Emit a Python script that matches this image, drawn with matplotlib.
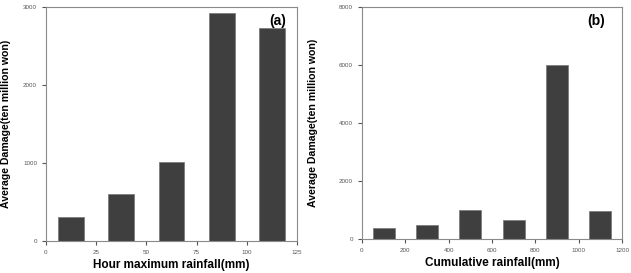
import matplotlib.pyplot as plt

# (a) hour maximum rainfall
hour_rain = [12.5, 37.5, 62.5, 87.5, 112.5]
hour_damage = [307, 598, 1008, 2919, 2731]

# (b) cumulative rainfall
cum_rain = [100, 300, 500, 700, 900, 1100]
cum_damage = [367, 482, 999, 654, 6015, 976]

bar_color = "#3f3f3f"
frame_color = "#8a8a8a"

plt.rcParams["font.family"] = ["Liberation Sans", "DejaVu Sans"]

fig = plt.figure(figsize=(6.31, 2.73), dpi=100)
W, H = 631, 273
ax1 = fig.add_axes([46 / W, 1 - 241 / H, (297 - 46) / W, (241 - 7) / H])
ax2 = fig.add_axes([362 / W, 1 - 239 / H, (622 - 362) / W, (239 - 7) / H])


def style(ax, xlabel, tag, ylab_x, tag_x):
    for s in ax.spines.values():
        s.set_color(frame_color)
        s.set_linewidth(0.8)
    ax.tick_params(axis="both", colors="#555555", labelsize=4.5, length=3,
                   width=0.8, direction="out", top=False, right=False)
    ax.set_xlabel(xlabel, fontsize=8.5, fontweight="bold")
    ax.xaxis.set_label_coords(0.5, -0.077)
    ax.set_ylabel("Average Damage(ten million won)", fontsize=7.6,
                  fontweight="bold")
    ax.yaxis.set_label_coords(ylab_x, 0.5)
    ax.text(tag_x, 0.97, tag, transform=ax.transAxes, ha="right", va="top",
            fontsize=10, fontweight="bold")


ax1.bar(hour_rain, hour_damage, width=12.8, color=bar_color,
        edgecolor="#777777", linewidth=0.5)
ax1.set_xlim(0, 125)
ax1.set_ylim(0, 3000)
ax1.set_xticks([0, 25, 50, 75, 100, 125])
ax1.set_yticks([0, 1000, 2000, 3000])
style(ax1, "Hour maximum rainfall(mm)", "(a)", -0.14, 0.955)

ax2.bar(cum_rain, cum_damage, width=103, color=bar_color,
        edgecolor="#777777", linewidth=0.5)
ax2.set_xlim(0, 1200)
ax2.set_ylim(0, 8000)
ax2.set_xticks([0, 200, 400, 600, 800, 1000, 1200])
ax2.set_yticks([0, 2000, 4000, 6000, 8000])
style(ax2, "Cumulative rainfall(mm)", "(b)", -0.17, 0.935)

fig.savefig("out.png", dpi=100)
